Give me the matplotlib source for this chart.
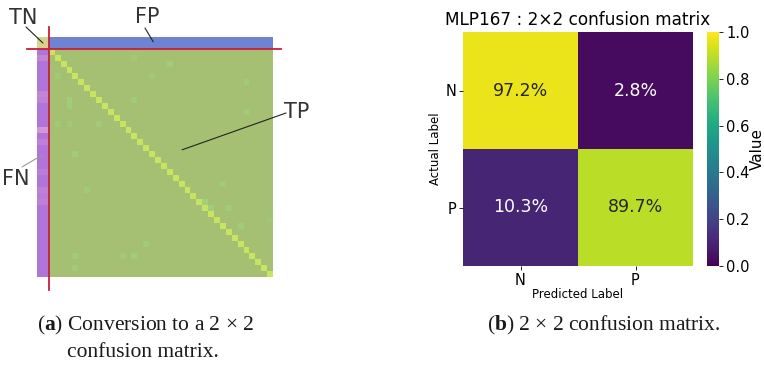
import numpy as np
import matplotlib
matplotlib.use("Agg")
import matplotlib.pyplot as plt
from matplotlib.colors import LinearSegmentedColormap

plt.rcParams['mathtext.fontset'] = 'custom'
plt.rcParams['mathtext.rm'] = 'Liberation Serif'
plt.rcParams['mathtext.bf'] = 'Liberation Serif:bold'

# ---------------- data: panel (a) multi-class matrix ----------------
n_pos = 38  # positive classes
tn_value = 0.90
diag_values = [0.95, 0.96, 0.95, 0.97, 0.96, 0.95, 0.96, 0.95, 0.97, 0.96,
               0.95, 0.96, 0.95, 0.96, 0.97, 0.95, 0.96, 0.95, 0.96, 0.95,
               0.96, 0.97, 0.95, 0.96, 0.95, 0.90, 0.92, 0.96, 0.95, 0.96,
               0.95, 0.96, 0.97, 0.95, 0.96, 0.95, 0.96, 0.97]
fn_values = [0.05, 0.25, 0.05, 0.05, 0.05, 0.05, 0.05, 0.25, 0.20, 0.05,
             0.05, 0.05, 0.05, 0.45, 0.05, 0.20, 0.05, 0.05, 0.05, 0.05,
             0.15, 0.05, 0.05, 0.20, 0.15, 0.20, 0.05, 0.05, 0.05, 0.05,
             0.05, 0.05, 0.05, 0.05, 0.05, 0.05, 0.05, 0.05]
fp_values = [0.0] * n_pos
# off-diagonal confusions among positive classes: (actual, predicted, value)
off_rows = [2, 3, 5, 5, 6, 9, 10, 9, 11, 13, 13, 13, 18, 24, 23, 27, 26, 27, 30, 33, 35, 35, 35, 37, 29]
off_cols = [15, 21, 2, 18, 34, 4, 4, 15, 34, 2, 4, 9, 5, 7, 30, 31, 27, 28, 33, 17, 15, 13, 5, 5, 38]
off_vals = [0.20, 0.25, 0.20, 0.15, 0.20, 0.30, 0.25, 0.25, 0.25, 0.20, 0.20, 0.20, 0.25, 0.20, 0.20,
            0.25, 0.35, 0.30, 0.25, 0.25, 0.25, 0.20, 0.25, 0.20, 0.15]

# ---------------- data: panel (b) 2x2 matrix ----------------
labels_2x2 = ['N', 'P']
cm_2x2 = [[0.972, 0.028],
          [0.103, 0.897]]
cm_text = ['97.2%', '2.8%', '10.3%', '89.7%']
cbar_ticks = [0.0, 0.2, 0.4, 0.6, 0.8, 1.0]

W, H = 764, 368
fig = plt.figure(figsize=(W / 100, H / 100), dpi=100)


def fx(px):
    return px / W


def fy(py):
    return 1 - py / H


# ---------------- panel (a) ----------------
ax1 = fig.add_axes([fx(37), fy(277), 236 / W, 240 / H])
n = n_pos + 1
M = np.zeros((n, n))
M[0, 0] = tn_value
M[0, 1:] = fp_values
M[1:, 0] = fn_values
for i in range(n_pos):
    M[i + 1, i + 1] = diag_values[i]
for r, c, v in zip(off_rows, off_cols, off_vals):
    M[r, c] = v

edges = np.concatenate([[0], np.arange(2, n + 2)])
rows, cols = np.indices((n, n))
tp_mask = (rows >= 1) & (cols >= 1)
fn_mask = (rows >= 1) & (cols == 0)
fp_mask = (rows == 0) & (cols >= 1)
tn_mask = (rows == 0) & (cols == 0)

cm_tp = LinearSegmentedColormap.from_list('tp', [(0, '#a5c073'), (0.3, '#9fcd7a'), (1, '#cbe55e')])
cm_fn = LinearSegmentedColormap.from_list('fn', [(0, '#ad70d9'), (0.5, '#d79bd2'), (1, '#e6b8c8')])
cm_fp = LinearSegmentedColormap.from_list('fp', [(0, '#6f84d0'), (1, '#8fa0dc')])
cm_tn = LinearSegmentedColormap.from_list('tn', [(0, '#b8b870'), (1, '#d8d690')])

for mask, cmap in [(tp_mask, cm_tp), (fn_mask, cm_fn), (fp_mask, cm_fp), (tn_mask, cm_tn)]:
    ax1.pcolormesh(edges, edges, np.ma.masked_where(~mask, M), cmap=cmap, vmin=0, vmax=1)
ax1.set_xlim(0, n + 1)
ax1.set_ylim(n + 1, 0)
ax1.axis('off')

red = '#c81e3c'
ax1.plot([2, 2], [-1.7, 42.2], color=red, lw=1.3, clip_on=False)
ax1.plot([-1.7, 41.4], [2, 2], color=red, lw=1.3, clip_on=False)

lab_kw = dict(fontsize=15, color='#333333', ha='center', va='center', family='DejaVu Sans')
fig.text(fx(23), fy(18), 'TN', **lab_kw)
fig.text(fx(147), fy(17), 'FP', **lab_kw)
fig.text(fx(297), fy(112), 'TP', **lab_kw)
fig.text(fx(16), fy(179), 'FN', **lab_kw)


def leader(x_data, y_data, px, py, color='#222222'):
    ax1.annotate('', xy=(x_data, y_data), xycoords='data',
                 xytext=(px, H - py), textcoords='figure pixels',
                 arrowprops=dict(arrowstyle='-', color=color, lw=0.8, shrinkA=0, shrinkB=0))


leader(1.0, 1.0, 26, 27)
leader(19.7, 0.8, 145, 28)
leader(24.6, 18.8, 286, 113)
leader(0.85, 19.7, 22, 167, color='#9a9a9a')

# ---------------- panel (b) ----------------
ax2 = fig.add_axes([fx(463), fy(266), 230 / W, 234 / H])
im = ax2.imshow(np.array(cm_2x2), cmap='viridis', vmin=0, vmax=1, aspect='auto')
k = 0
for i in range(2):
    for j in range(2):
        v = cm_2x2[i][j]
        ax2.text(j, i, cm_text[k], ha='center', va='center', fontsize=12.5,
                 color='#262626' if v > 0.5 else 'white')
        k += 1
ax2.set_xticks(range(2))
ax2.set_xticklabels(labels_2x2)
ax2.set_yticks(range(2))
ax2.set_yticklabels(labels_2x2)
ax2.tick_params(labelsize=10.5, length=3, width=0.6, pad=2)
for s in ax2.spines.values():
    s.set_visible(False)
ax2.set_xlabel('Predicted Label', fontsize=8.5, labelpad=0)
ax2.set_ylabel('Actual Label', fontsize=8.5, labelpad=2)
ax2.set_title('MLP167 : 2×2 confusion matrix', fontsize=12.2, pad=5)

cax = fig.add_axes([fx(707), fy(266), 12 / W, 234 / H])
cb = fig.colorbar(im, cax=cax, ticks=cbar_ticks)
cb.outline.set_visible(False)
cb.ax.tick_params(labelsize=10.5, length=3, width=0.6, pad=2)
cb.set_label('Value', fontsize=11, labelpad=0)

# ---------------- captions ----------------
cap_kw = dict(family='Liberation Serif', fontsize=15.5, va='baseline', color='#1a1a1a')
fig.text(fx(37), fy(330), '(' + r'$\mathbf{a}$' + ') Conversion to a 2 × 2', ha='left', **cap_kw)
fig.text(fx(67), fy(357), 'confusion matrix.', ha='left', **cap_kw)
fig.text(fx(721), fy(330), '(' + r'$\mathbf{b}$' + ') 2 × 2 confusion matrix.', ha='right', **cap_kw)

fig.savefig('out.png', dpi=100)
